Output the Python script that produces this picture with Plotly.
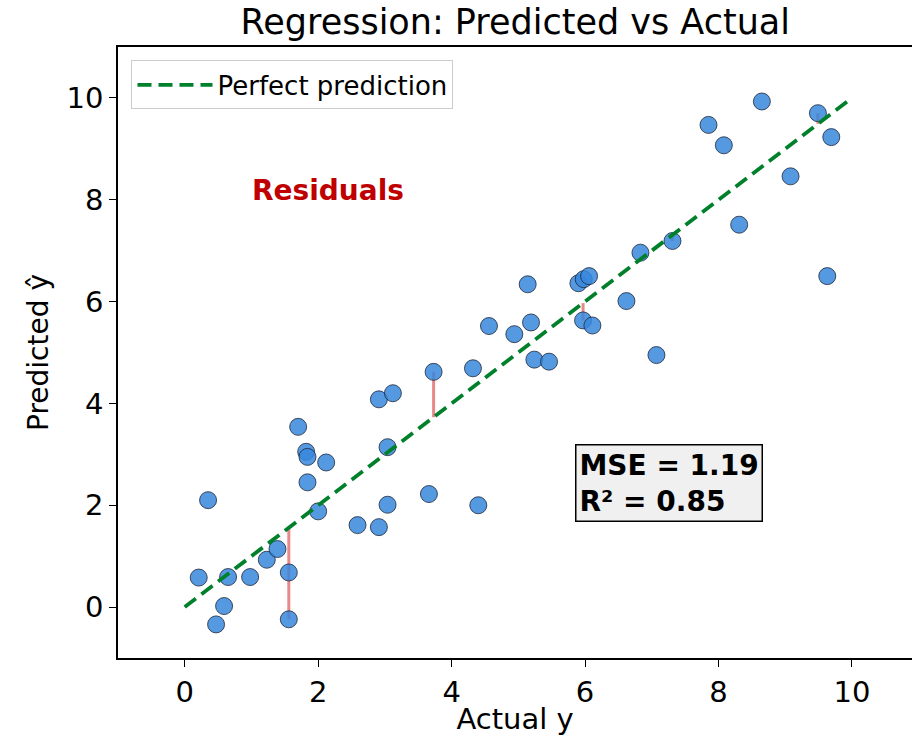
import plotly.graph_objects as go

actual = [0.21, 0.35, 0.47, 0.59, 0.65, 0.98, 1.23, 1.39, 1.56, 1.56, 1.70, 1.82, 1.84, 1.84,
          2.00, 2.12, 2.59, 2.91, 2.91, 3.04, 3.04, 3.12, 3.66, 3.73, 4.32, 4.40, 4.56, 4.94,
          5.14, 5.19, 5.24, 5.46, 5.90, 5.98, 6.06, 5.97, 6.11, 6.62, 6.83, 7.07, 7.31, 7.85,
          8.08, 8.31, 8.65, 9.08, 9.49, 9.63, 9.69]
predicted = [0.58, 2.10, -0.34, 0.02, 0.59, 0.59, 0.93, 1.14, 0.68, -0.24, 3.54, 3.05, 2.95, 2.45,
             1.88, 2.84, 1.61, 1.57, 4.08, 3.14, 2.01, 4.20, 2.22, 4.62, 4.69, 2.00, 5.52, 5.36,
             6.34, 5.59, 4.86, 4.82, 6.36, 6.44, 6.50, 5.63, 5.53, 6.01, 6.96, 4.95, 7.19, 9.47,
             9.07, 7.51, 9.93, 8.46, 9.70, 6.50, 9.23]

resid_actual = [1.56, 3.73, 5.97, 7.31, 9.49]
resid_pred = [-0.24, 4.62, 5.63, 7.19, 9.70]

perfect = [0, 10]

mse_text = "MSE = 1.19<br>R² = 0.85"

fig = go.Figure()

# residual segments
rx, ry = [], []
for a, p in zip(resid_actual, resid_pred):
    rx += [a, a, None]
    ry += [p, a, None]
fig.add_trace(go.Scatter(x=rx, y=ry, mode="lines", line=dict(color="rgba(214,39,40,0.55)", width=3),
                         showlegend=False, hoverinfo="skip"))

fig.add_trace(go.Scatter(x=actual, y=predicted, mode="markers",
                         marker=dict(size=17, color="rgba(55,135,220,0.85)",
                                     line=dict(color="rgba(30,40,60,0.8)", width=1)),
                         showlegend=False))

fig.add_trace(go.Scatter(x=perfect, y=perfect, mode="lines", name="Perfect prediction",
                         line=dict(color="#00802b", width=3.8, dash="14px,7px")))

fig.add_annotation(x=2.15, y=8.19, text="<b>Residuals</b>", showarrow=False,
                   font=dict(family="DejaVu Sans", size=28, color="#c00000"))
fig.add_annotation(x=5.85, y=2.44, xanchor="left", yanchor="middle", text="<b>" + mse_text + "</b>",
                   align="left", showarrow=False, bgcolor="#f0f0f0", bordercolor="black",
                   borderwidth=1.5, borderpad=3,
                   font=dict(family="DejaVu Sans", size=28, color="black"))

fig.update_layout(
    width=912, height=736,
    margin=dict(l=118, r=0, t=47, b=78),
    paper_bgcolor="white", plot_bgcolor="white",
    font=dict(family="DejaVu Sans", size=29, color="black"),
    title=dict(text="Regression: Predicted vs Actual", x=0.565, xanchor="center", y=0.97, yanchor="middle",
               font=dict(size=35, color="black")),
    legend=dict(x=0.017, y=0.978, xanchor="left", yanchor="top", bgcolor="rgba(255,255,255,0.8)",
                bordercolor="#cccccc", borderwidth=1, font=dict(size=26), itemwidth=75,
                tracegroupgap=0),
    xaxis=dict(range=[-1, 10.9], tickvals=[0, 2, 4, 6, 8, 10], showgrid=False, zeroline=False,
               showline=True, linecolor="black", linewidth=1.5, mirror=True,
               ticks="outside", ticklen=7, tickwidth=1.2, tickcolor="black",
               tickfont=dict(size=29),
               title=dict(text="Actual y", font=dict(size=29), standoff=2)),
    yaxis=dict(range=[-1, 11], tickvals=[0, 2, 4, 6, 8, 10], showgrid=False, zeroline=False,
               showline=True, linecolor="black", linewidth=1.5,
               ticks="outside", ticklen=7, tickwidth=1.2, tickcolor="black",
               tickfont=dict(size=29),
               title=dict(text="Predicted ŷ", font=dict(size=28), standoff=10)),
)

fig.write_html("out.html")
